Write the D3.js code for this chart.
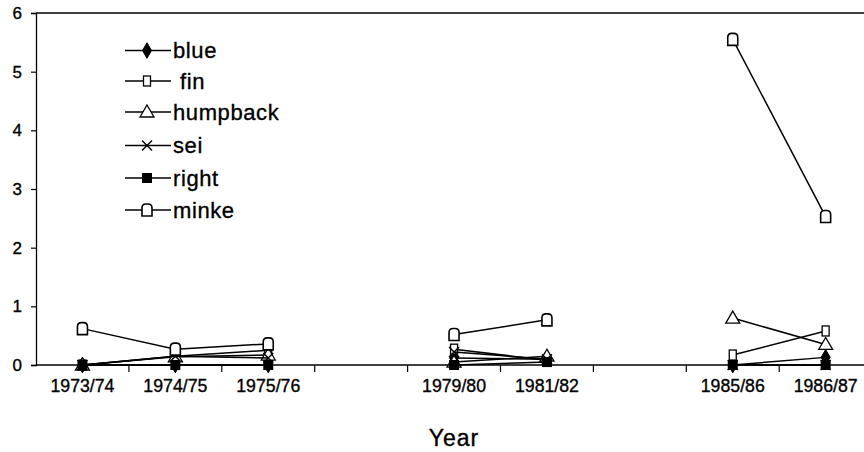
<!DOCTYPE html>
<html><head><meta charset="utf-8">
<script src="https://cdn.jsdelivr.net/npm/d3@7"></script>
<style>
body{margin:0;background:#fff;}
text{font-family:"Liberation Sans",Arial,sans-serif;fill:#000;stroke:#000;stroke-width:0.35px;}
</style></head>
<body><svg id="chart" width="864" height="452"></svg>
<script>
const categories = ["1973/74","1974/75","1975/76","","1979/80","1981/82","","1985/86","1986/87"];
const yTicks = [0,1,2,3,4,5,6];
const seriesNames = ["blue","fin","humpback","sei","right","minke"];
const blue     = [0, 0,    0,    null, 0.12, 0.10, null, 0,    0.13];
const fin      = [0, 0.15, 0.25, null, 0.27, 0.08, null, 0.17, 0.58];
const humpback = [0, 0.14, 0.17, null, 0.05, 0.15, null, 0.80, 0.35];
const sei      = [0, 0.15, 0.12, null, 0.22, 0.10, null, 0,    0];
const right    = [0, 0,    0,    null, 0,    0.05, null, 0,    0];
const minke    = [0.62, 0.27, 0.36, null, 0.52, 0.77, null, 5.55, 2.53];
const seriesValues = [blue, fin, humpback, sei, right, minke];

const svg = d3.select("#chart");
const plotLeft = 36, plotTop = 13, plotBottom = 365, step = 92.9;
const x = d3.scaleBand().domain(d3.range(categories.length)).range([plotLeft, plotLeft + step*categories.length]).padding(0);
const y = d3.scaleLinear().domain([0,6]).range([plotBottom, plotTop]);

// frame: top border
svg.append("line").attr("x1", plotLeft).attr("x2", 864).attr("y1", y(6)).attr("y2", y(6)).attr("stroke","#000").attr("stroke-width",1.5);

// y axis
const ya = svg.append("g").attr("transform",`translate(${plotLeft},0)`)
  .call(d3.axisLeft(y).tickValues(yTicks).tickFormat(d3.format("d")).tickSize(5).tickPadding(9));
ya.select(".domain").attr("stroke","#000").attr("stroke-width",1.3);
ya.selectAll(".tick line").attr("stroke","#000").attr("stroke-width",1.2);
ya.selectAll(".tick text").attr("font-size",17).attr("font-family","Liberation Sans, Arial, sans-serif");

// x axis line
svg.append("line").attr("x1", plotLeft).attr("x2", 864).attr("y1", plotBottom).attr("y2", plotBottom).attr("stroke","#000").attr("stroke-width",1.6);
// x tick marks at category boundaries
svg.append("g").selectAll("line").data(d3.range(1, categories.length)).join("line")
  .attr("x1", i => x(i)).attr("x2", i => x(i)).attr("y1", plotBottom).attr("y2", plotBottom+7)
  .attr("stroke","#000").attr("stroke-width",1.2);
// x labels
svg.append("g").selectAll("text").data(categories.map((c,i)=>({c,i})).filter(d=>d.c)).join("text")
  .attr("x", d => x(d.i) + x.bandwidth()/2).attr("y", 392)
  .attr("text-anchor","middle").attr("font-size",18)
  .attr("textLength",64).attr("lengthAdjust","spacingAndGlyphs")
  .text(d => d.c);

// axis title
svg.append("text").attr("x", x(4)+x.bandwidth()/2).attr("y", 446).attr("text-anchor","middle")
  .attr("font-size",23).attr("letter-spacing",1).text("Year");

// markers
function marker(g, name){
  if(name==="blue"){
    g.append("path").attr("d", d3.symbol().type(d3.symbolDiamond).size(70)()).attr("fill","#000").attr("stroke","#000");
  } else if(name==="fin"){
    g.append("rect").attr("x",-3.5).attr("y",-5).attr("width",7).attr("height",10).attr("fill","#fff").attr("stroke","#000").attr("stroke-width",1.3);
  } else if(name==="humpback"){
    g.append("path").attr("d","M-7,5L0,-7L7,5Z").attr("fill","#fff").attr("stroke","#000").attr("stroke-width",1.3);
  } else if(name==="sei"){
    g.append("path").attr("d","M-5,-5L5,5M-5,5L5,-5").attr("fill","none").attr("stroke","#000").attr("stroke-width",1.4);
  } else if(name==="right"){
    g.append("rect").attr("x",-5).attr("y",-5).attr("width",10).attr("height",10).attr("fill","#000");
  } else if(name==="minke"){
    g.append("path").attr("d","M-5,6L-5,-2Q-5,-6 -1,-6L1,-6Q5,-6 5,-2L5,6Z").attr("fill","#fff").attr("stroke","#000").attr("stroke-width",1.6);
  }
}

// series
const line = d3.line().defined(d => d.v !== null).x(d => x(d.i)+x.bandwidth()/2).y(d => y(d.v));
seriesNames.forEach((name, si) => {
  const pts = seriesValues[si].map((v,i)=>({v,i}));
  svg.append("path").datum(pts).attr("d", line).attr("fill","none").attr("stroke","#000").attr("stroke-width",1.5);
  pts.filter(d=>d.v!==null).forEach(d => {
    const g = svg.append("g").attr("transform",`translate(${x(d.i)+x.bandwidth()/2},${y(d.v)})`);
    marker(g, name);
  });
});

// legend
const legendY = [50.5, 81, 112, 145.5, 178, 210];
seriesNames.forEach((name, i) => {
  const ly = legendY[i];
  svg.append("line").attr("x1",125).attr("x2",171).attr("y1",ly).attr("y2",ly).attr("stroke","#000").attr("stroke-width",1.5);
  const g = svg.append("g").attr("transform",`translate(147,${ly})`);
  marker(g, name);
  svg.append("text").attr("x", name==="fin" ? 180 : 173).attr("y", ly+7.5).attr("font-size",22)
    .attr("letter-spacing",0.6).text(name);
});
</script></body></html>
